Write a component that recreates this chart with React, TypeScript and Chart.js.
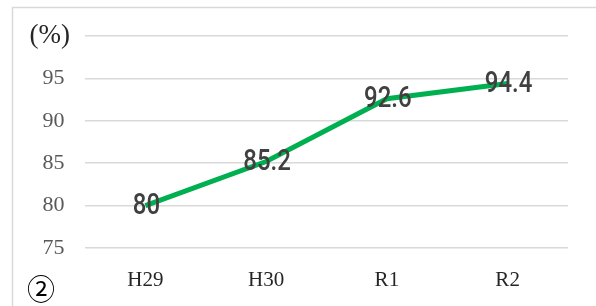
import React, { useEffect, useRef } from "react";
import { Chart, registerables } from "chart.js";

Chart.register(...registerables);

const categories = ["H29", "H30", "R1", "R2"];
const rates = [80, 85.2, 92.6, 94.4];
const yTicks = [75, 80, 85, 90, 95, 100];
const unitLabel = "(%)";
const panelMark = "②";

const framePlugin = {
  id: "frame",
  beforeDraw(chart: any) {
    const ctx = chart.ctx;
    ctx.save();
    ctx.fillStyle = "#ffffff";
    ctx.fillRect(0, 0, chart.width, chart.height);
    ctx.strokeStyle = "#d9d9d9";
    ctx.lineWidth = 1.5;
    ctx.strokeRect(12.5, 7.5, chart.width + 50, chart.height + 50);
    ctx.restore();
  },
  afterDraw(chart: any) {
    const ctx = chart.ctx;
    ctx.save();
    ctx.fillStyle = "#000000";
    ctx.font = '28px "Noto Sans CJK JP", "DejaVu Sans", sans-serif';
    ctx.textAlign = "center";
    ctx.textBaseline = "middle";
    ctx.fillText(panelMark, 41, 289);
    ctx.restore();
  },
};

const valueLabelPlugin = {
  id: "valueLabels",
  afterDatasetsDraw(chart: any) {
    const ctx = chart.ctx;
    const meta = chart.getDatasetMeta(0);
    const data = chart.data.datasets[0].data as number[];
    ctx.save();
    ctx.fillStyle = "#404040";
    ctx.font = '500 30px Roboto, "DejaVu Sans", sans-serif';
    ctx.textAlign = "center";
    ctx.textBaseline = "middle";
    meta.data.forEach((pt: any, i: number) => {
      ctx.save();
      ctx.translate(pt.x + 1, pt.y + 1);
      ctx.scale(0.8, 1);
      ctx.fillText(String(data[i]), 0, 0);
      ctx.restore();
    });
    ctx.restore();
  },
};

export default function App() {
  const ref = useRef<HTMLCanvasElement | null>(null);
  useEffect(() => {
    if (!ref.current) return;
    const chart = new Chart(ref.current, {
      type: "line",
      data: {
        labels: categories,
        datasets: [
          {
            data: rates,
            borderColor: "#00b050",
            borderWidth: 5,
            pointRadius: 0,
            pointHoverRadius: 0,
            tension: 0,
            fill: false,
          },
        ],
      },
      options: {
        animation: false,
        responsive: false,
        maintainAspectRatio: false,
        layout: { padding: { top: 36, right: 28, left: 0, bottom: 0 } },
        plugins: { legend: { display: false }, tooltip: { enabled: false } },
        scales: {
          x: {
            offset: true,
            grid: { display: false, drawTicks: false },
            border: { display: false },
            ticks: {
              color: "#262626",
              padding: 20,
              maxRotation: 0,
              font: { family: '"Liberation Serif", "DejaVu Serif", serif', size: 21 },
            },
            afterFit(scale: any) {
              scale.height = 58;
            },
          },
          y: {
            min: yTicks[0],
            max: yTicks[yTicks.length - 1],
            afterBuildTicks(scale: any) {
              scale.ticks = yTicks.map((v) => ({ value: v }));
            },
            grid: { color: "#d9d9d9", lineWidth: 1.5, drawTicks: false },
            border: { display: false },
            ticks: {
              padding: 15,
              color: (c: any) => (c.tick && c.tick.value === 100 ? "#262626" : "#595959"),
              font: (c: any) =>
                c.tick && c.tick.value === 100
                  ? { family: '"Liberation Serif", "DejaVu Serif", serif', size: 27 }
                  : { family: '"Liberation Serif", "DejaVu Serif", serif', size: 22 },
              callback: (v: any) => (Number(v) === 100 ? unitLabel : String(v) + " "),
            },
            afterFit(scale: any) {
              scale.width = 85;
            },
          },
        },
      },
      plugins: [framePlugin, valueLabelPlugin],
    });
    return () => chart.destroy();
  }, []);
  return (
    <div style={{ position: "fixed", left: 0, top: 0, width: 596, height: 306, background: "#fff" }}>
      <canvas ref={ref} width={596} height={306} style={{ width: 596, height: 306, display: "block" }} />
    </div>
  );
}
